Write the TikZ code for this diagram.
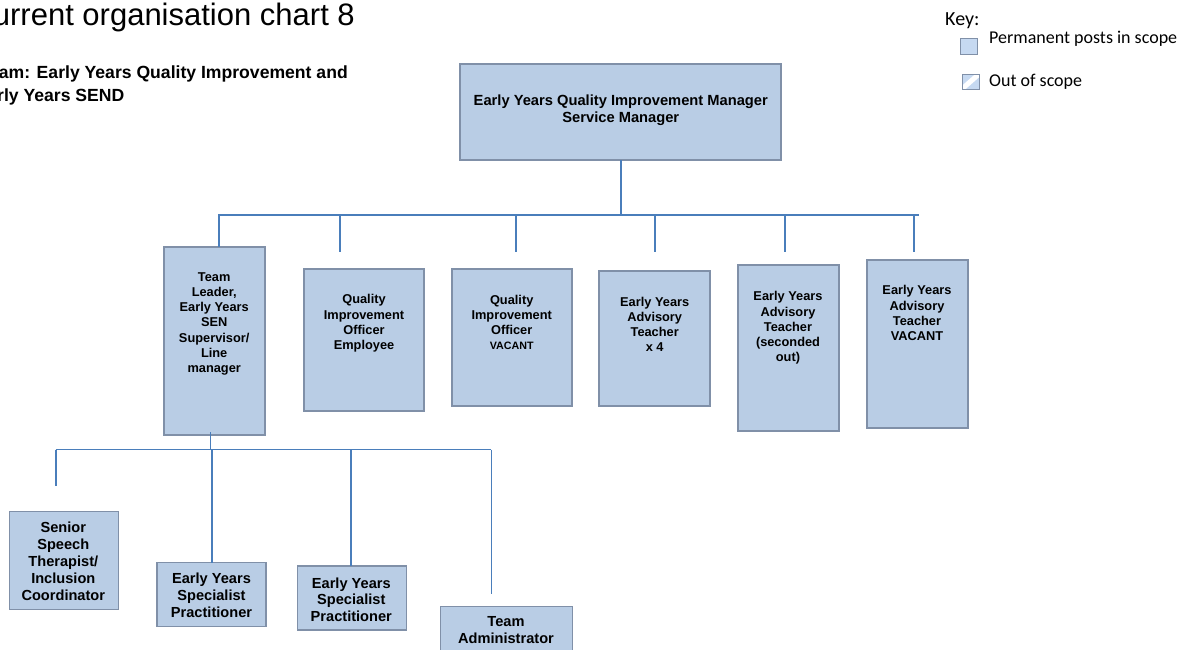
\documentclass[tikz,border=0pt]{standalone}
\usepackage{fontspec}
\setmainfont{Liberation Sans}
\newfontfamily\keyfont{Carlito}
\definecolor{postfill}{HTML}{B9CDE5}
\definecolor{postedge}{HTML}{8090A8}
\definecolor{linkblue}{HTML}{4A7EBB}
\definecolor{keyfill}{HTML}{C6D9F1}
\begin{document}
\begin{tikzpicture}[x=1pt,y=-1pt,
  post/.style={draw=postedge, fill=postfill, line width=1.1pt, inner sep=0pt, outer sep=0pt},
  lbl/.style={anchor=north, align=center, inner sep=0pt, font=\bfseries\fontsize{12.8}{15.2}\selectfont},
  lblbig/.style={lbl, font=\bfseries\fontsize{14.6}{17}\selectfont},
  conn/.style={draw=linkblue, line width=2pt},
  thinconn/.style={draw=linkblue, line width=1.2pt},
  keytext/.style={anchor=base west, inner sep=0pt, font=\keyfont\fontsize{18}{22}\selectfont},
]
\useasboundingbox (0,0) rectangle (1191,649);

% headings
\node[anchor=base east, inner sep=0pt, font=\fontsize{31}{37}\selectfont] (title) at (355,25) {Current organisation chart 8};
\node[anchor=north west, align=left, inner sep=0pt, font=\bfseries\fontsize{17.6}{22.5}\selectfont] (team) at (-20.5,66)
  {Team: Early Years Quality Improvement and\\\hspace*{-4pt}Early Years SEND};

% key
\node[anchor=base west, inner sep=0pt, font=\keyfont\fontsize{20}{24}\selectfont] (keyhead) at (945,25) {Key:};
\node[draw=postedge, fill=keyfill, line width=0.8pt, minimum width=17pt, minimum height=16pt, inner sep=0pt] (keyA) at (968.7,46) {};
\node[keytext] (keyAt) at (989,43.3) {Permanent posts in scope};
\node[draw=postedge, line width=0.8pt, minimum width=17pt, minimum height=15pt, inner sep=0pt,
  path picture={
    \fill[keyfill] (path picture bounding box.south west) rectangle (path picture bounding box.north east);
    \draw[white, line width=5pt] (path picture bounding box.south west) -- (path picture bounding box.north east);
  }] (keyB) at (970.5,81.5) {};
\node[keytext] (keyBt) at (989,86) {Out of scope};

% posts
\node[post, minimum width=321pt, minimum height=96pt] (tm) at (620.5,112) {};
\node[post, minimum width=101pt, minimum height=188pt] (tl) at (214.5,341) {};
\node[post, minimum width=120pt, minimum height=142pt] (q1) at (364,340) {};
\node[post, minimum width=120pt, minimum height=137pt] (q2) at (512,337.5) {};
\node[post, minimum width=111pt, minimum height=135pt] (a1) at (654.5,338.5) {};
\node[post, minimum width=101pt, minimum height=166pt] (a2) at (788.5,348) {};
\node[post, minimum width=101pt, minimum height=168pt] (a3) at (917.5,344) {};
\node[post, minimum width=109pt, minimum height=98pt] (s1) at (63.8,560.3) {};
\node[post, minimum width=109pt, minimum height=63.6pt] (e1) at (211.5,594.5) {};
\node[post, minimum width=109pt, minimum height=64pt] (e2) at (351.8,598) {};
\node[post, minimum width=131.7pt, minimum height=54pt] (ad) at (506.2,633.3) {};

% post titles
\node[lbl, font=\bfseries\fontsize{14.7}{17}\selectfont] (tmT) at (620.8,95)
  {Early Years Quality Improvement Manager\\Service Manager};
\node[lbl, font=\bfseries\fontsize{12.8}{15.3}\selectfont] (tlT) at (214.2,272)
  {Team\\Leader,\\Early Years\\SEN\\Supervisor/\\Line\\manager};
\node[lbl] (q1T) at (364,294.4) {Quality\\Improvement\\Officer\\Employee};
\node[lbl] (q2T) at (511.7,294.7) {Quality\\Improvement\\Officer\\{\fontsize{10.7}{14}\selectfont VACANT}};
\node[lbl, font=\bfseries\fontsize{12.8}{15}\selectfont] (a1T) at (654.7,297.1) {Early Years\\Advisory\\Teacher\\x 4};
\node[lbl, font=\bfseries\fontsize{12.8}{15.25}\selectfont] (a2T) at (788,291.4) {Early Years\\Advisory\\Teacher\\(seconded\\out)};
\node[lbl] (a3T) at (917,285.4) {Early Years\\Advisory\\Teacher\\VACANT};
\node[lblbig, font=\bfseries\fontsize{14.6}{16.9}\selectfont] (s1T) at (63.3,522) {Senior\\Speech\\Therapist/\\Inclusion\\Coordinator};
\node[lblbig] (e1T) at (211.5,572.7) {Early Years\\Specialist\\Practitioner};
\node[lblbig, font=\bfseries\fontsize{14.6}{16.7}\selectfont] (e2T) at (351.3,577.4) {Early Years\\Specialist\\Practitioner};
\node[lblbig, font=\bfseries\fontsize{14.6}{17.7}\selectfont] (adT) at (506,616) {Team\\Administrator};

% upper reporting lines
\coordinate (barL) at (219,215);
\coordinate (barR) at (917.5,215);
\coordinate (dq1) at (340,251.7);
\coordinate (dq2) at (516,251.7);
\coordinate (da1) at (654.7,251.7);
\coordinate (da2) at (784.7,251.7);
\coordinate (da3) at (913.7,251.7);
\draw[conn] (tm.south -| 621,0) -- (621,215);
\draw[conn, line cap=rect] (barL) -- (barR);
\draw[conn] (barL) -- (barL |- tl.north);
\draw[conn] (dq1 |- barL) -- (dq1);
\draw[conn] (dq2 |- barL) -- (dq2);
\draw[conn] (da1 |- barL) -- (da1);
\draw[conn] (da2 |- barL) -- (da2);
\draw[conn] (da3 |- barL) -- (da3);

% lower reporting lines
\coordinate (bbL) at (55.7,449.7);
\coordinate (bbR) at (491.3,449.7);
\coordinate (ds1) at (55.7,485.7);
\coordinate (dad) at (491.3,594.3);
\draw[draw=linkblue, line width=1pt] ([shift={(-4.2,-3)}]tl.south) -- ([xshift=-4.2pt]tl.south |- bbL);
\draw[thinconn] (bbL) -- (bbR);
\draw[conn] (bbL) -- (ds1);
\draw[conn] (e1.north -| 211.7,0) -- (211.7,449.7);
\draw[conn] (e2.north -| 350.7,0) -- (350.7,449.7);
\draw[thinconn] (bbR) -- (dad);
\end{tikzpicture}
\end{document}
